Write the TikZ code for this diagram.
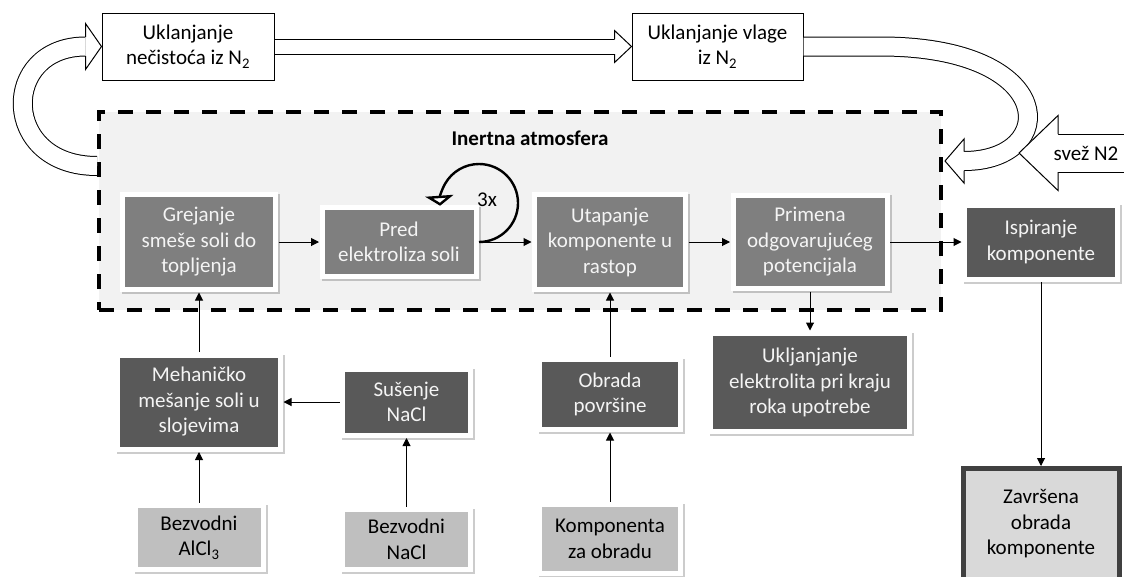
\documentclass[tikz,border=0pt]{standalone}
\usepackage{fontspec}
\setmainfont{Carlito}
\usetikzlibrary{arrows.meta,shadows}

\definecolor{boxmid}{HTML}{7F7F7F}
\definecolor{boxdark}{HTML}{595959}
\definecolor{boxlight}{HTML}{BFBFBF}
\definecolor{boxpale}{HTML}{D9D9D9}
\definecolor{boxedge}{HTML}{404040}
\definecolor{boxtext}{HTML}{F4F4F4}
\definecolor{inertfill}{HTML}{F2F2F2}

% head of a wide (block) arrow: tip, angle, length, half width, half shaft
\newcommand{\blockhead}[5]{%
  \begin{scope}[shift={#1}, rotate=#2]
    \fill[white] (0,0) -- (-#3,#4) -- (-#3,-#4) -- cycle;
    \draw[-, line join=miter] (-#3,#5) -- (-#3,#4) -- (0,0) -- (-#3,-#4) -- (-#3,-#5);
  \end{scope}}

\begin{document}
\begin{tikzpicture}[x=1pt, y=1pt, node distance=200pt, ->, >={Triangle[length=8pt,width=8pt]},
  line width=1pt, font=\fontsize{21}{25.5}\selectfont,
  framed/.style={rectangle, fill=white, align=center, inner sep=0pt,
    drop shadow={shadow xshift=2pt, shadow yshift=-2pt, fill=black, opacity=0.2},
    path picture={\fill[#1] ([shift={(5pt,5pt)}]path picture bounding box.south west)
      rectangle ([shift={(-5pt,-5pt)}]path picture bounding box.north east);}},
  midbox/.style={framed=boxmid, text=boxtext},
  darkbox/.style={framed=boxdark, text=boxtext},
  inbox/.style={framed=boxlight, text=black},
  gasbox/.style={rectangle, draw, fill=white, align=center, minimum width=172pt, minimum height=67pt},
  inertbox/.style={rectangle, draw, fill=inertfill, line width=4pt, dash pattern=on 15pt off 13pt},
  endbox/.style={rectangle, draw=boxedge, fill=boxpale, line width=5pt, align=center},
  band/.style={-, line width=1pt, double=white, double distance=18pt},
  loopline/.style={-{Triangle[length=10pt,width=28pt,fill=white]}, line width=2.4pt}]

  \useasboundingbox (0,0) rectangle (1124,-576);

  \node[inertbox, minimum width=842pt, minimum height=198pt] (inert) at (520,-211) {};
  \node[font=\fontsize{21}{25.5}\selectfont\bfseries] (inertlbl) at (530,-138) {Inertna atmosfera};

  \node[midbox, minimum width=158pt, minimum height=100pt] (grej) at (199,-242) {Grejanje\\smeše soli do\\topljenja};
  \node[midbox, minimum width=159pt, minimum height=74pt] (pred) [right of=grej] {Pred\\elektroliza soli};
  \node[midbox, minimum width=156pt, minimum height=100pt] (utap) [right of=pred, xshift=11pt] {Utapanje\\komponente u\\rastop};
  \node[midbox, minimum width=159pt, minimum height=98pt] (prim) [right of=utap] {Primena\\odgovarujućeg\\potencijala};
  \node[darkbox, minimum width=158pt, minimum height=79pt] (ispi) [right of=prim, xshift=31pt] {Ispiranje\\komponente};

  \node[darkbox, minimum width=168pt, minimum height=99pt] (meh) [below of=grej, yshift=40pt] {Mehaničko\\mešanje soli u\\slojevima};
  \node[darkbox, minimum width=133pt, minimum height=71pt] (sus) [right of=meh, xshift=7.5pt] {Sušenje\\NaCl};
  \node[darkbox, minimum width=146pt, minimum height=75pt] (obr) [below of=utap, yshift=47.5pt] {Obrada\\površine};
  \node[darkbox, minimum width=204pt, minimum height=103pt] (uklj) [below of=prim, yshift=59.5pt] {Ukljanjanje\\elektrolita pri kraju\\roka upotrebe};

  \node[inbox, minimum width=133pt, minimum height=69pt] (alcl) [below of=meh, yshift=64.5pt] {Bezvodni\\AlCl\textsubscript{3}};
  \node[inbox, minimum width=133pt, minimum height=65pt] (nacl) [below of=sus, yshift=62.5pt] {Bezvodni\\NaCl};
  \node[inbox, minimum width=146pt, minimum height=74pt] (komp) [below of=obr, yshift=55.5pt] {Komponenta\\za obradu};
  \node[endbox, minimum width=156pt, minimum height=111pt] (zavr) [below of=ispi, yshift=-82pt] {Završena\\obrada\\komponente};

  \node[gasbox] (nec) at (188,-46.5) {Uklanjanje\\nečistoća iz N\textsubscript{2}};
  \node[gasbox, minimum width=171pt] (vlaga) at (717.5,-46.5) {Uklanjanje vlage\\iz N\textsubscript{2}};

  % nitrogen loop
  \draw[band] ([yshift=45pt]inert.west) .. controls (0,-166) and (0,-46.5) .. ([xshift=-16pt]nec.west);
  \blockhead{(nec.west)}{0}{16}{23}{9.5}
  \draw[band, double distance=14pt] (nec.east) -- ([xshift=-17pt]vlaga.west);
  \blockhead{(vlaga.west)}{0}{17}{16}{7.5}
  \coordinate (rtip) at ([xshift=2pt, yshift=50pt]inert.east);
  \draw[band] (vlaga.east) -- ++(77,0) .. controls (1060,-46.5) and (1060,-161) .. ([xshift=19pt]rtip);
  \blockhead{(rtip)}{180}{19}{22}{9.5}
  \coordinate (svtip) at ([xshift=76pt, yshift=58pt]inert.east);
  \coordinate (svtail) at (1140,-153);
  \draw[band, double distance=37pt] (svtail) -- ([xshift=39pt]svtip);
  \blockhead{(svtip)}{180}{39}{37.5}{19}
  \node (svez) at (1086,-153) {svež N2};

  % repeated pre-electrolysis
  \draw[loopline] (pred.east) arc[start angle=-90, end angle=184, radius=39pt];
  \node (times) at (487,-200) {3x};

  \path (grej) edge (pred)
        (pred) edge (utap)
        (utap) edge (prim)
        (prim) edge (ispi)
               edge (uklj)
        (meh)  edge (grej)
        (sus)  edge (meh)
        (alcl) edge (meh)
        (nacl) edge (sus)
        (komp) edge (obr)
        (obr)  edge (utap)
        (ispi) edge (zavr);

\end{tikzpicture}
\end{document}
